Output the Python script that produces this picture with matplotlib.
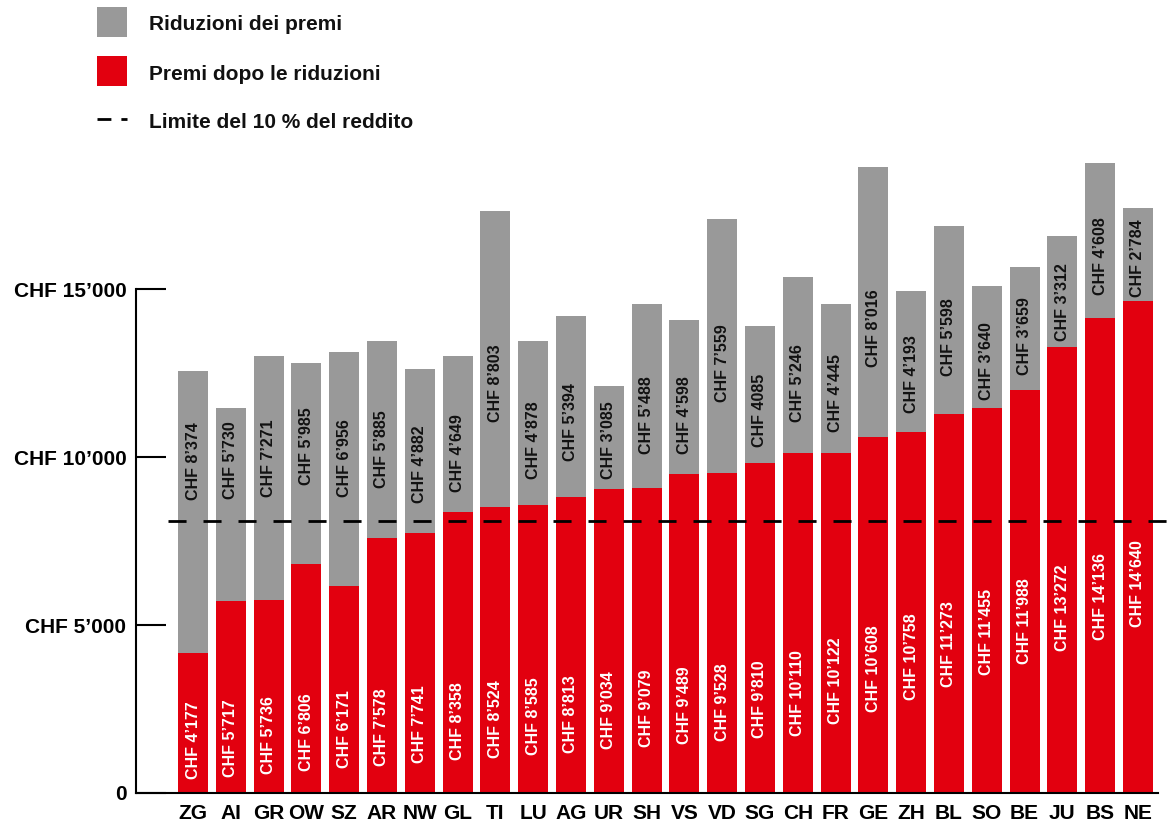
import matplotlib
matplotlib.use("Agg")
import matplotlib.pyplot as plt
from matplotlib.patches import Rectangle
from matplotlib.lines import Line2D
from matplotlib.transforms import blended_transform_factory


# DATA

cantons = ["ZG", "AI", "GR", "OW", "SZ", "AR", "NW", "GL", "TI", "LU", "AG", "UR", "SH",
           "VS", "VD", "SG", "CH", "FR", "GE", "ZH", "BL", "SO", "BE", "JU", "BS", "NE"]

# premiums after reductions (CHF)
premi_netti = [4177, 5717, 5736, 6806, 6171, 7578, 7741, 8358, 8524, 8585, 8813, 9034, 9079,
               9489, 9528, 9810, 10110, 10122, 10608, 10758, 11273, 11455, 11988, 13272, 14136, 14640]

# premium reductions (CHF)
riduzioni = [8374, 5730, 7271, 5985, 6956, 5885, 4882, 4649, 8803, 4878, 5394, 3085, 5488,
             4598, 7559, 4085, 5246, 4445, 8016, 4193, 5598, 3640, 3659, 3312, 4608, 2784]

LIMITE_10 = 8100  # 10 % of income

y_ticks = [0, 5000, 10000, 15000]
y_tick_labels = ["0", "CHF 5’000", "CHF 10’000", "CHF 15’000"]

# labels printed without thousands separator
no_sep = {"SG"}

# where each rotated value label starts (CHF on the y axis)
red_label_at = [405, 467, 554, 655, 744, 813, 893, 982, 1042, 1131, 1205, 1310, 1369,
                1458, 1548, 1637, 1696, 2054, 2411, 2768, 3140, 3512, 3854, 4214, 4554, 4940]
gray_label_at = [8720, 8750, 8810, 9179, 8810, 9092, 8631, 8958, 11042, 9345, 9881, 9345, 10089,
                 10089, 11643, 10298, 11042, 10756, 12679, 11310, 12420, 11682, 12440, 13467, 14821, 14762]


# STYLE

RED = "#E2000F"
GRAY = "#999999"
FONT = "Liberation Sans"

plt.rcParams["font.family"] = [FONT, "DejaVu Sans"]
plt.rcParams["font.weight"] = "bold"

W, H = 1176, 825


def chf(v, plain=False):
    if plain:
        return f"CHF {v}"
    return "CHF " + f"{v:,}".replace(",", "’")


# FIGURE

fig = plt.figure(figsize=(W / 100, H / 100), dpi=100)
ax = fig.add_axes([136 / W, 32 / H, (1158 - 136) / W, (793 - 150) / H])

x = list(range(len(cantons)))
ax.bar(x, premi_netti, width=0.794, color=RED, zorder=1)
ax.bar(x, riduzioni, width=0.794, bottom=premi_netti, color=GRAY, zorder=1)

for i, c in enumerate(cantons):
    ax.text(i, red_label_at[i], chf(premi_netti[i]), rotation=90, ha="center", va="bottom",
            color="white", fontsize=11.5, fontweight="bold", zorder=4)
    ax.text(i, gray_label_at[i], chf(riduzioni[i], c in no_sep), rotation=90, ha="center",
            va="bottom", color="#111111", fontsize=11.5, fontweight="bold", zorder=4)

# 10 % income limit runs out to the right edge of the figure
trans = blended_transform_factory(fig.transFigure, ax.transData)
ax.plot([168 / W, 1.0], [LIMITE_10, LIMITE_10], transform=trans, color="black",
        linewidth=2, dashes=(6.5, 6.1), clip_on=False, zorder=3)

ax.set_xlim(-1.508, 25.53)
ax.set_ylim(0, 19137)

ax.set_xticks(x)
ax.set_xticklabels(cantons, fontsize=15, fontweight="bold")
ax.set_yticks(y_ticks)
ax.set_yticklabels(y_tick_labels, fontsize=15, fontweight="bold")
ax.tick_params(axis="x", length=0, pad=8)
ax.tick_params(axis="y", direction="in", length=21.6, width=1.5, pad=7)

for side in ["top", "right"]:
    ax.spines[side].set_visible(False)
ax.spines["left"].set_bounds(0, 15000)
ax.spines["left"].set_linewidth(1.5)
ax.spines["bottom"].set_linewidth(1.5)


# LEGEND (drawn in pixel positions from the top-left)

def fx(px):
    return px / W


def fy(py):
    return 1 - py / H


fig.add_artist(Rectangle((fx(97), fy(37)), 30 / W, 30 / H, transform=fig.transFigure,
                         color=GRAY, lw=0))
fig.add_artist(Rectangle((fx(97), fy(86)), 30 / W, 30 / H, transform=fig.transFigure,
                         color=RED, lw=0))
fig.add_artist(Line2D([fx(97), fx(127)], [fy(119), fy(119)], transform=fig.transFigure,
                      color="black", linewidth=2, dashes=(5, 3.6)))

legend_texts = ["Riduzioni dei premi", "Premi dopo le riduzioni", "Limite del 10 % del reddito"]
for txt, base in zip(legend_texts, [30.5, 80, 128.5]):
    fig.text(fx(149), fy(base), txt, ha="left", va="baseline", fontsize=15,
             fontweight="bold", color="#111111")

fig.savefig("out.png", dpi=100)
plt.close(fig)
